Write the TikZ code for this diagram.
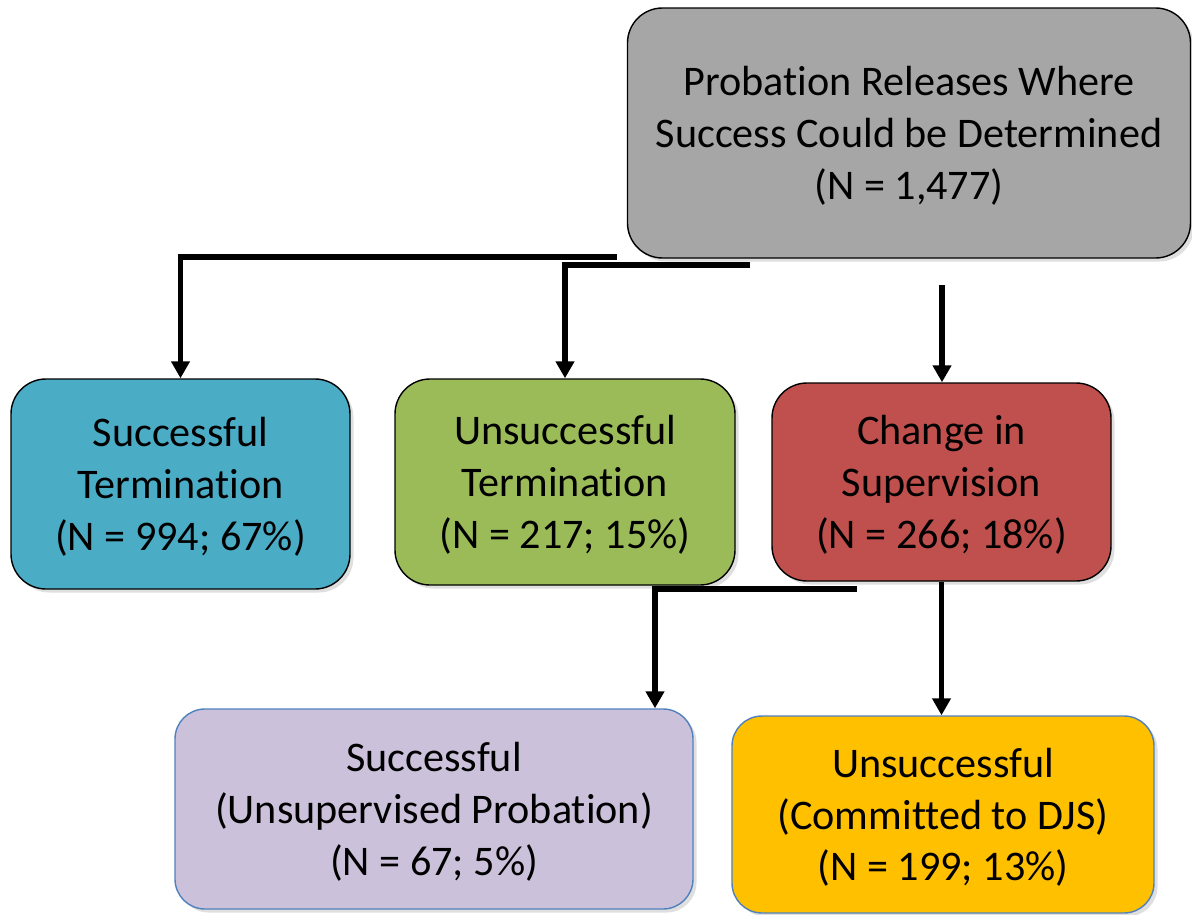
\documentclass[tikz,border=0pt]{standalone}
\usepackage{fontspec}
\setmainfont[Ligatures={NoCommon,NoRequired,NoContextual}, RawFeature={-liga;-clig;-calt;-ccmp;-dlig}]{Carlito}
\usepackage{tikz}
\usetikzlibrary{arrows.meta,shadows}

\definecolor{boxgray}{HTML}{A6A6A6}
\definecolor{boxblue}{HTML}{4BACC6}
\definecolor{boxgreen}{HTML}{9BBB59}
\definecolor{boxred}{HTML}{C0504D}
\definecolor{boxlilac}{HTML}{CCC1DA}
\definecolor{boxgold}{HTML}{FFC000}
\definecolor{edgeblue}{HTML}{4F81BD}

\tikzset{
  box/.style={draw, rounded corners=0.7cm, align=center, line width=0.8pt,
    font=\fontsize{24}{29.5}\selectfont, text depth=0pt,
    drop shadow={opacity=0.25, shadow xshift=2pt, shadow yshift=-2pt}},
  lowbox/.style={box, draw=edgeblue, rounded corners=0.6cm},
  conn/.style={line width=3.3pt, -{Triangle[width=0.36cm, length=0.34cm]}},
}

\begin{document}
\begin{tikzpicture}[x=1cm, y=1cm]
\useasboundingbox (0,0) rectangle (23.84,-18.3);

\node[box, fill=boxgray, minimum width=11.26cm, minimum height=5cm] (rel) at (18.18,-2.66) {Probation Releases Where\\Success Could be Determined\\(N = 1,477)};

\node[box, fill=boxblue, minimum width=6.78cm, minimum height=4.2cm] (succ) at (3.61,-9.68) {Successful\\Termination\\(N = 994; 67\%)};
\node[box, fill=boxgreen, minimum width=6.8cm, minimum height=4.12cm] (unsucc) at (11.3,-9.64) {Unsuccessful\\Termination\\(N = 217; 15\%)};
\node[box, fill=boxred, minimum width=6.78cm, minimum height=3.96cm] (chg) at (18.83,-9.64) {Change in\\Supervision\\(N = 266; 18\%)};

\node[lowbox, fill=boxlilac, minimum width=10.36cm, minimum height=4cm] (unsup) at (8.68,-16.18) {Successful\\(Unsupervised Probation)\\(N = 67; 5\%)};
\node[lowbox, fill=boxgold, minimum width=8.44cm, minimum height=3.94cm] (djs) at (18.86,-16.29) {Unsuccessful\\(Committed to DJS)\\(N = 199; 13\%)};

\coordinate (j1) at (12.34,-5.14);
\coordinate (j2) at (15.0,-5.3);
\coordinate (j3) at (18.84,-5.7);
\coordinate (j4) at (17.14,-11.78);
\coordinate (k4) at (13.1,-11.78);

\draw[conn] (j1) -| (succ.north);
\draw[conn] (j2) -| (unsucc.north);
\draw[conn] (j3) -- (j3 |- chg.north);
\draw[conn] (j4) -- (k4) -- (k4 |- unsup.north);
\draw[conn] (chg.south) -- (chg.south |- djs.north);

\end{tikzpicture}
\end{document}
